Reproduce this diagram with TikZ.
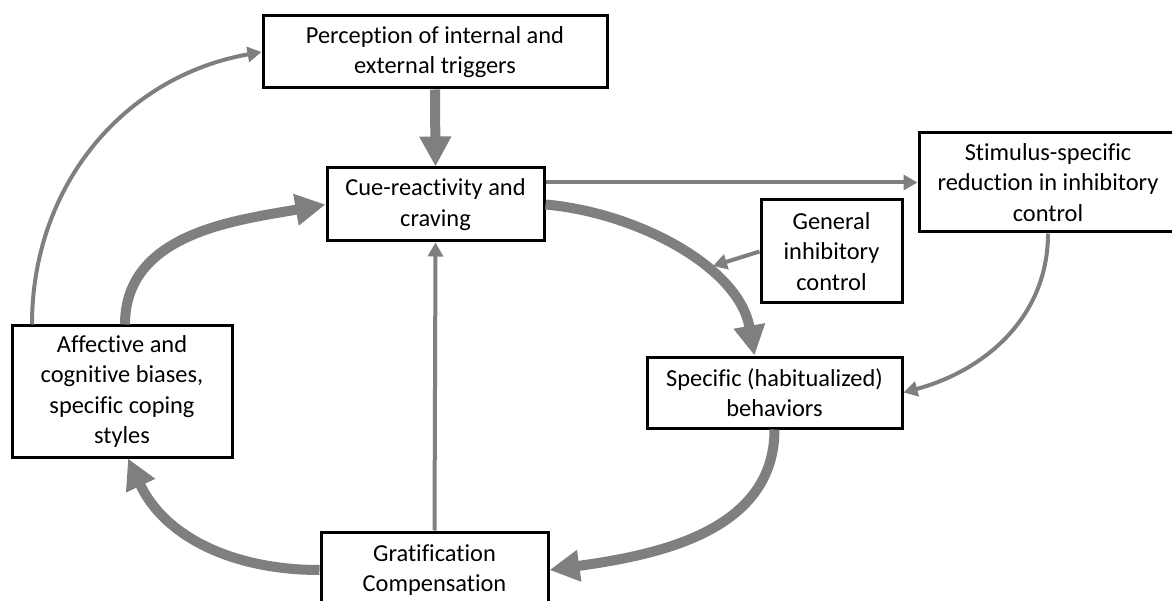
\documentclass[tikz,border=0pt]{standalone}
\usepackage{fontspec}
\setmainfont{Carlito}[RawFeature={-liga;-clig}]
\usetikzlibrary{arrows.meta,calc}
\definecolor{linkgray}{RGB}{127,127,127}
\newcommand\diagfont{\fontsize{24.4}{30.5}\selectfont}
\tikzset{
  box/.style={draw=black, line width=3pt, fill=white, inner sep=0pt,
    align=center, font=\diagfont},
  heavy link/.style={draw=linkgray, line width=10pt,
    -{Triangle[length=30pt,width=30pt]}},
  light link/.style={draw=linkgray, line width=4pt,
    -{Triangle[length=14pt,width=15pt]}},
}
\begin{document}
\begin{tikzpicture}[x=1pt,y=1pt]
\useasboundingbox (0,0) rectangle (1172,-601);
\clip (0,0) rectangle (1172,-601);

% boxes
\node[box, minimum width=344pt, minimum height=72pt] (per) at (435,-52)
  {Perception of internal and\\external triggers};
\node[box, minimum width=217pt, minimum height=73pt] (cue) at (435.5,-204.5)
  {Cue-reactivity and\\craving};
\node[box, minimum width=258pt, minimum height=99pt] (stim) at (1048,-182.5)
  {Stimulus-specific\\reduction in inhibitory\\control};
\node[box, minimum width=141pt, minimum height=103pt] (gen) at (831.5,-251.5)
  {General\\inhibitory\\control};
\node[box, minimum width=255pt, minimum height=71pt] (spec) at (774.5,-392.5)
  {Specific (habitualized)\\behaviors};
\node[box, minimum width=220pt, minimum height=131pt] (aff) at (122,-391.5)
  {Affective and\\cognitive biases,\\specific coping\\styles};
\node[box, minimum width=227pt, minimum height=76pt] (grat) at (434.5,-570)
  {Gratification\\Compensation};

% connectors
\draw[heavy link] (per.south) -- (cue.north);
\draw[light link] (cue.east |- stim.west) -- (stim.west);
\draw[heavy link] (cue.east) to[out=-5,in=100,looseness=0.9] ([xshift=-20pt]spec.north);
\coordinate (gtip) at (713,-266);
\draw[light link] (gen.west) -- (gtip);
\draw[light link] (stim.south) to[out=-90,in=15] (spec.east);
\draw[heavy link] (spec.south) to[out=-90,in=8] (grat.east);
\draw[heavy link] (grat.west) to[out=180,in=-65] ([xshift=6pt]aff.south);
\draw[heavy link] ([xshift=3pt]aff.north) to[out=90,in=190] (cue.west);
\draw[light link] ([xshift=-90pt]aff.north) to[out=90,in=190] (per.west);
\draw[light link] (grat.north) -- (cue.south);
\end{tikzpicture}
\end{document}
